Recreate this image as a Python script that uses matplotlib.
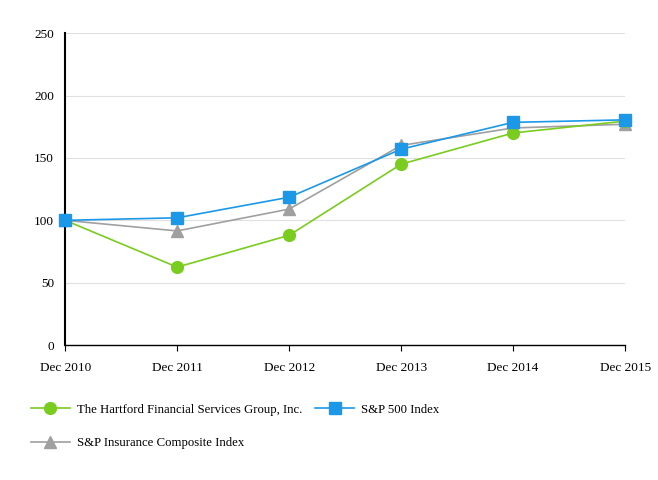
import matplotlib
matplotlib.use("Agg")
import matplotlib.pyplot as plt
from matplotlib.lines import Line2D

plt.rcParams['font.family'] = ['Liberation Serif', 'DejaVu Serif']

years = ['Dec 2010', 'Dec 2011', 'Dec 2012', 'Dec 2013', 'Dec 2014', 'Dec 2015']
hartford = [100, 62.5, 88, 145, 170, 179.5]
sp500 = [100, 102, 118.5, 157, 178.5, 180.5]
insurance = [100, 91.5, 109, 160, 174, 177]

fig = plt.figure(figsize=(6.58, 4.80), dpi=100)
ax = fig.add_axes([0.099, 0.281, 0.851, 0.65])
x = range(len(years))

ax.plot(x, hartford, color='#7acc1f', lw=1.2, marker='o', ms=8.5, zorder=3, clip_on=False)
ax.plot(x, sp500, color='#1b98e8', lw=1.2, marker='s', ms=8.5, zorder=4, clip_on=False)
ax.plot(x, insurance, color='#a0a0a0', lw=1.2, marker='^', ms=8.5, zorder=2, clip_on=False)

ax.set_xlim(0, 5)
ax.set_ylim(0, 250)
ax.set_yticks([0, 50, 100, 150, 200, 250])
ax.set_xticks(list(x))
ax.set_xticklabels(years)
ax.yaxis.grid(True, color='#e0e0e0', lw=0.8)
ax.set_axisbelow(True)
for s in ['top', 'right']:
    ax.spines[s].set_visible(False)
ax.spines['left'].set_linewidth(1.5)
ax.spines['bottom'].set_linewidth(1.0)
ax.tick_params(axis='y', length=0, labelsize=9.5, pad=8)
ax.tick_params(axis='x', length=4, labelsize=9.5, pad=8)

h1 = Line2D([], [], color='#7acc1f', lw=1.2, marker='o', ms=8.5)
h2 = Line2D([], [], color='#1b98e8', lw=1.2, marker='s', ms=8.5)
h3 = Line2D([], [], color='#a0a0a0', lw=1.2, marker='^', ms=8.5)
fig.legend([h1, h2], ['The Hartford Financial Services Group, Inc.', 'S&P 500 Index'],
           loc='upper left', bbox_to_anchor=(0.03, 0.183), ncol=2, frameon=False,
           fontsize=9.2, handlelength=3.0, handletextpad=0.6, columnspacing=1.0)
fig.legend([h3], ['S&P Insurance Composite Index'],
           loc='upper left', bbox_to_anchor=(0.03, 0.113), frameon=False,
           fontsize=9.2, handlelength=3.0, handletextpad=0.6)

fig.savefig('out.png', dpi=100)
